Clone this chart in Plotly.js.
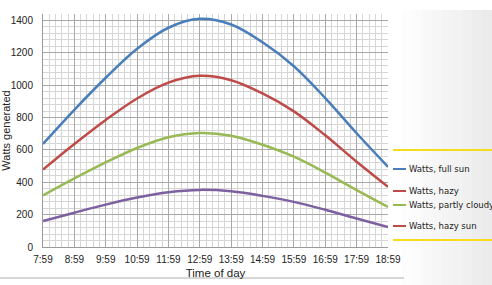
<!DOCTYPE html>
<html><head><meta charset="utf-8">
<script src="https://cdn.plot.ly/plotly-3.0.1.min.js"></script>
<style>html,body{margin:0;padding:0;background:#fff}#chart{width:492px;height:285px}</style>
</head><body><div id="chart"></div>
<script>
const times = ["7:59","8:59","9:59","10:59","11:59","12:59","13:59","14:59","15:59","16:59","17:59","18:59"];
const fullSun = [637, 848, 1046, 1225, 1355, 1410, 1375, 1265, 1117, 920, 703, 495];
const hazy = [478, 636, 785, 918, 1016, 1058, 1031, 949, 838, 690, 527, 372];
const partlyCloudy = [319, 424, 523, 612, 678, 705, 688, 632, 558, 460, 352, 248];
const hazySun = [160, 212, 262, 306, 339, 353, 344, 316, 279, 230, 176, 124];
const seriesNames = ["Watts, full sun", "Watts, hazy", "Watts, partly cloudy", "Watts, hazy sun"];

const W = 492, H = 285, ML = 43, MR = 104, MT = 14, MB = 38;
const pw = W - ML - MR, ph = H - MT - MB;
const fx = px => (px - ML) / pw;
const fy = py => (H - MB - py) / ph;

const colors = ["#4A7EBB", "#BE4B48", "#98B954", "#7D60A0"];
const legendColors = ["#4A7EBB", "#BE4B48", "#98B954", "#BE4B48"];
const allSeries = [fullSun, hazy, partlyCloudy, hazySun];
const xIdx = times.map((t, i) => i);

const traces = allSeries.map((s, k) => ({
  x: xIdx, y: s, type: 'scatter', mode: 'lines', name: seriesNames[k],
  line: {color: colors[k], width: 2.5, shape: 'spline', smoothing: 1},
  hoverinfo: 'skip'
}));

const shapes = [];
// right panel gradient
for (let i = 0; i < 10; i++) {
  const g = Math.round(255 - i * 2.2);
  const c = `rgb(${g},${g},${g})`;
  shapes.push({type: 'rect', xref: 'paper', yref: 'paper', x0: fx(392 + i * 10), x1: fx(402 + i * 10),
    y0: fy(285), y1: fy(10), fillcolor: c, line: {width: 0}, layer: 'below'});
}
// bottom light line
shapes.push({type: 'line', xref: 'paper', yref: 'paper', x0: fx(0), x1: fx(404), y0: fy(278), y1: fy(278),
  line: {color: '#d6d6d6', width: 2}});
// yellow legend borders
[150, 240].forEach(py => shapes.push({type: 'line', xref: 'paper', yref: 'paper', x0: fx(393), x1: fx(492),
  y0: fy(py), y1: fy(py), line: {color: '#F7DC1E', width: 2}}));
// legend samples
const legY = [169, 191, 205, 226];
const annotations = [];
legY.forEach((py, k) => {
  shapes.push({type: 'line', xref: 'paper', yref: 'paper', x0: fx(393), x1: fx(406), y0: fy(py), y1: fy(py),
    line: {color: legendColors[k], width: 2}});
  annotations.push({xref: 'paper', yref: 'paper', x: fx(407), y: fy(py), xanchor: 'left', yanchor: 'middle',
    text: seriesNames[k], showarrow: false, font: {family: 'DejaVu Sans, Verdana, sans-serif', size: 8.5, color: '#222'}});
});

const layout = {
  width: W, height: H,
  margin: {l: ML, r: MR, t: MT, b: MB, pad: 0},
  paper_bgcolor: 'rgba(0,0,0,0)', plot_bgcolor: 'rgba(0,0,0,0)',
  showlegend: false,
  font: {family: 'Liberation Sans, Arial, sans-serif', size: 10, color: '#222'},
  xaxis: {
    range: [0, 11], tickvals: xIdx, ticktext: times, showgrid: true, gridcolor: '#a8a8a8', gridwidth: 1,
    minor: {dtick: 0.2, showgrid: true, gridcolor: '#d6d6d6', gridwidth: 1},
    zeroline: false, showline: true, linecolor: '#9a9a9a', ticks: '', ticklabelstandoff: 3,
    tickfont: {size: 10, color: '#222'},
    title: {text: 'Time of day', font: {size: 11.5, color: '#222'}, standoff: 4}
  },
  yaxis: {
    range: [0, 1440], tickvals: [0, 200, 400, 600, 800, 1000, 1200, 1400], showgrid: true,
    gridcolor: '#a8a8a8', gridwidth: 1,
    minor: {tickvals: Array.from({length: 36}, (_, i) => i * 40), showgrid: true, gridcolor: '#d6d6d6', gridwidth: 1},
    zeroline: false, showline: true, linecolor: '#9a9a9a', ticks: '', ticklabelstandoff: 7,
    tickfont: {size: 10, color: '#222'},
    title: {text: 'Watts generated', font: {size: 11, color: '#222'}, standoff: 2}
  },
  shapes: shapes, annotations: annotations
};

Plotly.newPlot('chart', traces, layout, {staticPlot: true, displayModeBar: false});
</script></body></html>
